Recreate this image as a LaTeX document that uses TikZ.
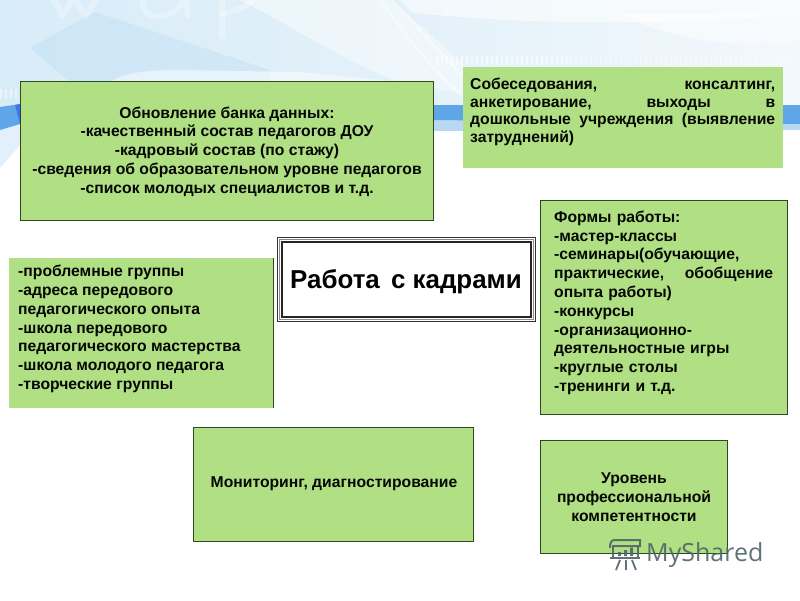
\documentclass[tikz,border=0pt]{standalone}
\usetikzlibrary{fadings}
\usepackage{fontspec}
\setmainfont{Liberation Sans}
\newfontfamily\wmfont{Open Sans}
\definecolor{boxgreen}{HTML}{B1E084}
\definecolor{boxedge}{HTML}{2F4A22}
\definecolor{skyA}{HTML}{BCDDF2}
\definecolor{skyB}{HTML}{D8ECF8}
\definecolor{skyC}{HTML}{F3F8FC}
\definecolor{bandblue}{HTML}{5FA6E8}
\definecolor{bandpale}{HTML}{B9D8F3}
\definecolor{wmgray}{HTML}{4F6468}
\tikzset{
  gbox/.style={fill=boxgreen,inner sep=0pt,outer sep=0pt,anchor=north west},
  edged/.style={gbox,draw=boxedge,line width=0.9pt},
  bodytext/.style={inner sep=0pt,font=\bfseries\fontsize{15.7}{18.8}\selectfont,text=black!90!boxedge},
  sweep/.style={white,line width=2pt,opacity=.6,line cap=round},
  letter/.style={white,opacity=.3,line width=6pt,line cap=round,line join=round},
  glyphrow/.style={white,opacity=.5,line width=9pt,dash pattern=on 2pt off 3pt},
}
\begin{document}
\begin{tikzpicture}[x=1pt,y=-1pt]
\useasboundingbox (0,0) rectangle (800,600);
\fill[white] (0,0) rectangle (800,600);
\begin{scope}
\clip (0,0) rectangle (800,600);
% background sky
\shade[left color=skyB,right color=skyC,middle color=skyB!60!skyC] (0,0) rectangle (800,106);
\fill[skyA,opacity=.4] (30,48) -- (95,12) -- (270,70) -- (270,82) -- (70,82) -- cycle;
\fill[white,opacity=.45] (240,0) .. controls (300,30) and (340,60) .. (400,82) -- (500,100) .. controls (460,60) and (420,25) .. (390,0) -- cycle;
\fill[white,opacity=.55] (400,0) -- (800,0) -- (800,14) .. controls (650,28) and (480,22) .. (412,12) -- cycle;
\fill[white,opacity=.45] (620,14) .. controls (670,40) and (740,50) .. (800,40) -- (800,14) -- cycle;
\fill[white,opacity=.5] (110,82) .. controls (125,72) and (150,70) .. (180,70) -- (300,72) -- (400,82) -- cycle;
\draw[sweep,opacity=.45] (380,0) .. controls (410,40) and (430,70) .. (470,102);
\draw[sweep,opacity=.45] (392,0) .. controls (425,35) and (445,60) .. (480,92);
\draw[letter] (52,-4) -- (62,16) -- (74,-2) -- (86,16) -- (98,-4);
\draw[letter] (143,-4) .. controls (140,12) and (150,17) .. (160,16) .. controls (172,15) and (182,8) .. (186,-4) (186,-4) -- (188,16);
\draw[letter] (222,-4) -- (222,36);
\draw[letter] (222,14) .. controls (240,10) and (250,5) .. (256,-4);
% glyph rows
\draw[glyphrow] (436,60) -- (570,60);
\draw[glyphrow,opacity=.25] (570,60) -- (800,60);
\draw[glyphrow] (0,93) -- (20,93);
% blue band
\fill[bandpale] (434,112) -- (800,112) -- (800,130) -- (434,131) -- cycle;
\fill[bandblue] (434,105) -- (800,105) -- (800,124) -- (434,120) -- cycle;
\fill[bandpale,opacity=.4] (0,122) -- (20,120) -- (20,145) -- (0,168) -- cycle;
\fill[bandblue] (0,107) -- (20,104) -- (20,124) -- (0,130) -- cycle;
\fill[bandblue!70!blue] (15,105) -- (20,104) -- (20,124) -- cycle;
\end{scope}
% boxes
\node[edged,minimum width=413.5pt,minimum height=139pt] (bank) at (20,81) {};
\node[bodytext,align=center] (banktext) at (227,151.5) {Обновление банка данных:\\-качественный состав педагогов ДОУ\\-кадровый состав (по стажу)\\-сведения об образовательном уровне педагогов\\-список молодых специалистов и т.д.};
\node[gbox,minimum width=320pt,minimum height=101pt] (talks) at (463,67) {};
\node[bodytext,anchor=north west,text width=305pt,align=left,font=\bfseries\fontsize{15.7}{17.8}\selectfont] (talkstext) at (470,77.5) {\leavevmode\hbox to 305pt{Собеседования,\hfill консалтинг,}\\\leavevmode\hbox to 305pt{анкетирование,\hfill выходы\hfill в}\\\leavevmode\hbox to 305pt{дошкольные\hfill учреждения\hfill (выявление}\\затруднений)};
\node[edged,minimum width=247pt,minimum height=214pt] (forms) at (540,200) {};
\node[bodytext,anchor=north west,text width=219pt,align=left] (formstext) at (554,210.5) {Формы работы:\\-мастер-классы\\-семинары(обучающие,\\\leavevmode\hbox to 219pt{практические,\hfill обобщение}\\опыта работы)\\-конкурсы\\-организационно-\\деятельностные игры\\-круглые столы\\-тренинги и т.д.};
\node[gbox,minimum width=264pt,minimum height=150pt] (groups) at (9,258) {};
\draw[boxedge,line width=0.9pt] (groups.north east) -- (groups.south east);
\node[bodytext,anchor=north west,align=left] (groupstext) at (18,265) {-проблемные группы\\-адреса передового\\педагогического опыта\\-школа передового\\педагогического мастерства\\-школа молодого педагога\\-творческие группы};
\node[edged,minimum width=280.5pt,minimum height=114pt] (monitor) at (193,427) {};
\node[bodytext,align=center] (monitortext) at (334,484) {Мониторинг, диагностирование};
\node[edged,minimum width=187pt,minimum height=113pt] (level) at (540,440) {};
\node[bodytext,align=center] (leveltext) at (634,497) {Уровень\\профессиональной\\компетентности};
% centre box
\node[gbox,fill=white,draw=black!80,line width=1.6pt,minimum width=258pt,minimum height=84pt] (core) at (277.5,237.5) {};
\draw[black!45,line width=1.5pt] (279.7,239.7) rectangle (533.3,319.3);
\draw[black!85,line width=1.4pt] (282,242) rectangle (531,317);
\node[inner sep=0pt,font=\bfseries\fontsize{25.9}{28}\selectfont] (coretext) at (406,281.5) {Работа\hspace{4pt} с кадрами};
% watermark
\begin{scope}[wmgray,opacity=.9]
\draw[line width=2pt] (610,548) .. controls (610,541) and (612,540) .. (616,540) -- (640,540) -- (640,546) -- (612,546);
\draw[line width=2pt] (613,546) -- (613,558) -- (638,558) -- (638,546) (610,558) -- (640,558);
\fill (618,552) rectangle (621,556) (624,550) rectangle (627,556) (630,547.5) rectangle (633,556);
\draw[line width=1.8pt] (620,560) -- (616,570) (626,560) -- (626,570) (632,560) -- (636,570);
\end{scope}
\node[inner sep=0pt,anchor=west,text=wmgray,opacity=.9,font=\wmfont\fontsize{25}{28}\selectfont] (wm) at (646,555) {MyShared};
\end{tikzpicture}
\end{document}
